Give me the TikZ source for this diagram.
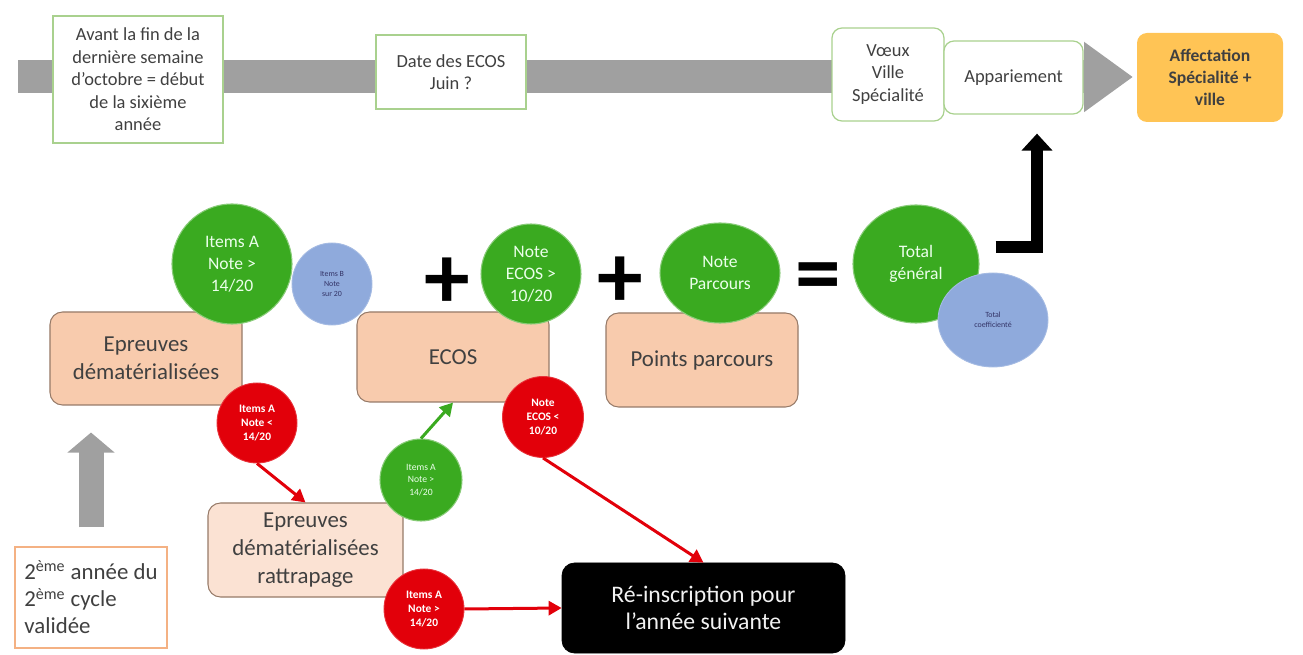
\documentclass[tikz,border=0pt]{standalone}
\usepackage{fontspec}
\setmainfont{Carlito}
\usepackage{tikz}
\usetikzlibrary{arrows.meta, shapes.geometric, positioning, calc}
\definecolor{bargray}{RGB}{160,160,160}
\definecolor{topgreen}{RGB}{169,209,142}
\definecolor{txtgray}{RGB}{64,64,64}
\definecolor{affectorange}{RGB}{255,196,85}
\definecolor{peach}{RGB}{248,203,173}
\definecolor{peachline}{RGB}{150,122,104}
\definecolor{paleapeach}{RGB}{251,226,211}
\definecolor{ballgreen}{RGB}{58,170,32}
\definecolor{ballred}{RGB}{226,0,10}
\definecolor{ballblue}{RGB}{143,170,220}
\definecolor{valideline}{RGB}{244,177,131}

\begin{document}
\begin{tikzpicture}[x=0.2mm, y=-0.2mm,
  topbox/.style={draw=topgreen, line width=0.7pt, fill=white, align=center,
    text=txtgray, font=\fontsize{10.5}{12.8}\selectfont, inner sep=1pt},
  toproundbox/.style={topbox, rounded corners=2mm},
  peachbox/.style={draw=peachline, line width=0.6pt, fill=peach, rounded corners=2.5mm,
    align=center, text=txtgray, font=\fontsize{13}{16}\selectfont, inner sep=1pt},
  greenball/.style={circle, fill=ballgreen, draw=ballgreen!60!white, line width=0.6pt,
    text=white!92!green, align=center, inner sep=0pt, font=\fontsize{10}{12.5}\selectfont},
  redball/.style={circle, fill=ballred, draw=ballred!80!white, line width=0.5pt,
    text=white, align=center, inner sep=0pt, font=\fontsize{6.5}{8.2}\selectfont\bfseries},
  blueball/.style={ellipse, fill=ballblue, draw=ballblue!80!white, line width=0.5pt,
    text=txtgray!80!blue, align=center, inner sep=0pt, font=\fontsize{4.5}{5.5}\selectfont},
  sign/.style={inner sep=0pt, font=\fontsize{52}{52}\selectfont\bfseries},
  redarrow/.style={draw=ballred, line width=0.6mm, -{Triangle[length=2.6mm, width=2.8mm]}},
  greenarrow/.style={draw=ballgreen, line width=0.6mm, -{Triangle[length=2.6mm, width=2.8mm]}}
]
\useasboundingbox (0,0) rectangle (1303,655);

% timeline bar
\coordinate (barL) at (18,77);
\coordinate (barR) at (1133,77);
\draw[bargray, line width=6.6mm, -{Triangle[length=9.8mm, width=13.4mm]}] (barL) -- (barR);

% top boxes
\node[topbox, minimum width=34mm, minimum height=25.4mm] (avant) at (138,79.5)
  {Avant la fin de la\\dernière semaine\\d'octobre = début\\de la sixième\\année};
\node[topbox, minimum width=30mm, minimum height=14.8mm] (dateecos) at (451,72)
  {Date des ECOS\\Juin ?};
\node[toproundbox, minimum width=22.4mm, minimum height=18.6mm] (voeux) at (888,74.5)
  {Vœux\\Ville\\Spécialité};
\node[toproundbox, minimum width=27.8mm, minimum height=14.6mm] (appar) at (1013.5,77.5)
  {Appariement};
\node[toproundbox, draw=none, fill=affectorange, minimum width=29.2mm, minimum height=17.8mm,
  font=\fontsize{10}{12.5}\selectfont\bfseries] (affect) at (1210,77.5)
  {Affectation\\Spécialité +\\ville};

% main boxes
\node[peachbox, minimum width=38.4mm, minimum height=18.6mm] (epreuves) at (146,358.5)
  {Epreuves\\dématérialisées};
\node[peachbox, minimum width=38.4mm, minimum height=18mm] (ecos) at (453,357) {ECOS};
\node[peachbox, minimum width=38.4mm, minimum height=18.8mm] (points) at (702,360)
  {Points parcours};
\node[peachbox, fill=paleapeach, minimum width=39mm, minimum height=18.8mm] (rattrapage) at (305.5,550)
  {Epreuves\\dématérialisées\\rattrapage};
\node[draw=black, fill=black, rounded corners=2.5mm, text=white!90!gray, align=center,
  font=\fontsize{13.5}{15}\selectfont, minimum width=56.6mm, minimum height=18mm] (reinscr) at (703.5,608)
  {Ré-inscription pour\\l'année suivante};
\node[draw=valideline, line width=0.7pt, fill=white, align=left, text=txtgray,
  font=\fontsize{13}{15.5}\selectfont, minimum width=30.4mm, minimum height=20.2mm,
  inner sep=1pt] (valide) at (91,597.5)
  {2\textsuperscript{ème} année du\\2\textsuperscript{ème} cycle\\validée};

% score circles
\node[greenball, minimum size=24mm] (itemsA) at (232,264) {Items A\\Note >\\14/20};
\node[blueball, minimum width=16mm, minimum height=16.4mm] (itemsB) at (332,284) {Items B\\Note\\sur 20};
\node[greenball, minimum size=20mm] (noteecos) at (531,274) {Note\\ECOS >\\10/20};
\node[greenball, ellipse, minimum width=24mm, minimum height=20mm] (noteparc) at (720,273) {Note\\Parcours};
\node[greenball, ellipse, minimum width=25.2mm, minimum height=23.6mm] (totgen) at (916,264) {Total\\général};
\node[blueball, minimum width=22mm, minimum height=18.8mm] (totblue) at (993,320) {Total\\coefficienté};

\node[sign] (plusA) at (447,283) {+};
\node[sign] (plusB) at (620,282) {+};
\node[sign] (egal) at (818,283) {=};

% pass / fail circles
\node[redball, minimum size=16mm] (redA) at (257,423) {Items A\\Note <\\14/20};
\node[greenball, minimum size=16.4mm, font=\fontsize{5.5}{7}\selectfont] (greenratt) at (421,480)
  {Items A\\Note >\\14/20};
\node[redball, minimum size=16.2mm] (redecos) at (543,417) {Note\\ECOS <\\10/20};
\node[redball, minimum size=16mm] (redratt) at (424,609) {Items A\\Note >\\14/20};

% connectors
\draw[redarrow] (redA.south) -- (rattrapage.north);
\draw[greenarrow] (greenratt.north) -- (ecos.south);
\draw[redarrow] (redecos.south) -- (reinscr.north);
\draw[redarrow] (redratt.east) -- (reinscr.west);
\draw[bargray, line width=5mm, shorten <=3.8mm, shorten >=5.4mm,
  -{Triangle[length=4mm, width=9.2mm]}] (valide.north) -- (valide.north |- epreuves.south);
\draw[black, line width=2.4mm, line join=miter, shorten >=3.8mm,
  -{Triangle[length=3.4mm, width=6mm]}]
  ([xshift=3.2mm, yshift=3.4mm]totgen.east) -| ([xshift=4.7mm]appar.south);

\end{tikzpicture}
\end{document}
